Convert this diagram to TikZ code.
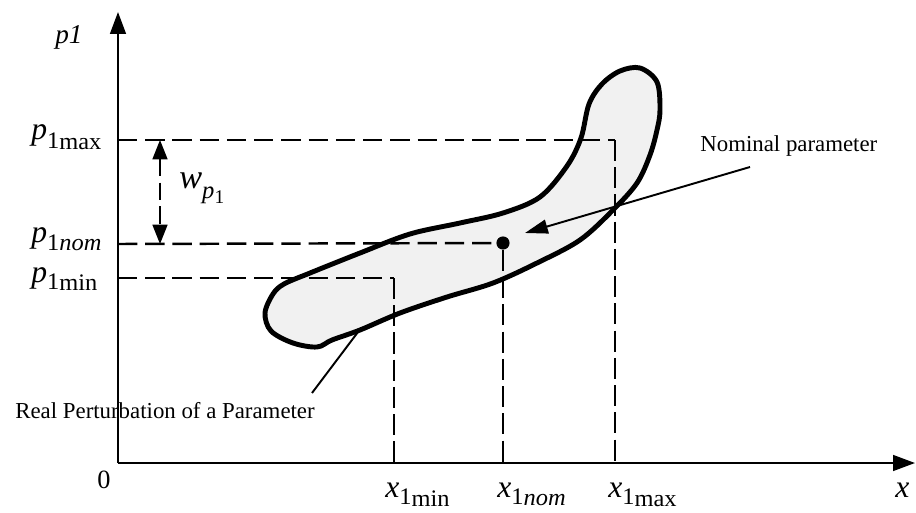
\documentclass[tikz,border=0pt]{standalone}
\usepackage{fontspec}
\setmainfont{Liberation Serif}
\usetikzlibrary{arrows.meta}
\newcommand{\symlbl}[4]{\textit{#1}\raisebox{-#3}{\fontsize{13.5}{15}\selectfont\scalebox{1.03}[1]{1}}\raisebox{-#4}{\fontsize{13.5}{15}\selectfont\scalebox{1.03}[1]{#2}}}
\begin{document}
\begin{tikzpicture}[x=0.02cm,y=-0.02cm,
  axisline/.style={line width=1.1pt,-{Triangle[length=12.5pt,width=9pt]}},
  guideh/.style={line width=1.4pt,dash pattern=on 11pt off 4.5pt},
  guidev/.style={line width=1.1pt,dash pattern=on 12pt off 3.5pt},
  warrow/.style={line width=0.9pt,dash pattern=on 10pt off 3.5pt,{Triangle[length=11pt,width=8.5pt]}-{Triangle[length=11pt,width=8.5pt]}},
  ptr/.style={line width=1.1pt,-{Triangle[length=13pt,width=8pt]}},
  plain/.style={line width=1.1pt},
  mathlbl/.style={font=\fontsize{18}{20}\selectfont,inner sep=0pt,anchor=base west},
  note/.style={font=\fontsize{13}{15}\selectfont,inner sep=0pt,anchor=base west},
  blob/.style={fill=gray!11,draw=black,line width=2.8pt,line join=round}
]
\useasboundingbox (0,0) rectangle (916,513);

% coordinates
\coordinate (O) at (118,463);
\coordinate (Ytop) at (118,12);
\coordinate (Xend) at (915,463);
\coordinate (Pmax) at (118,140);
\coordinate (Pnom) at (118,244);
\coordinate (Pmin) at (118,278);
\coordinate (Cmax) at (615,140);
\coordinate (Cmin) at (394,278);
\coordinate (Xmax) at (615,463);
\coordinate (Xmin) at (394,463);
\coordinate (Xnom) at (503,463);
\coordinate (Wt) at (160,140);
\coordinate (Wb) at (160,244);
\coordinate (realtail) at (312,393);
\coordinate (realtip) at (358,332);
\coordinate (nomtail) at (750,167);
\coordinate (nomtip) at (525,233);

% pointer to the region (under the blob)
\draw[plain] (realtail) -- (realtip);

% perturbation region
\path[blob] plot[smooth cycle, tension=0.55] coordinates {
 (640,68) (657,82) (660,110) (657,130) (650,155) (637,183) (613,210) (580,240)
 (537,263) (493,283) (447,297) (400,313) (360,330) (332,340) (317,347) (293,343)
 (271,331) (265,313) (273,294) (284,284) (310,273) (360,253) (410,234) (460,223)
 (503,213) (540,197) (567,166) (581,138) (589,104) (602,84) (620,71)};

% guides
\node[circle,fill=black,inner sep=0pt,minimum size=7.5pt] (dot) at (503,243) {};
\draw[guideh] (Pmax) -- (Cmax);
\draw[guidev] (Cmax) -- (Xmax);
\draw[guideh] (Pmin) -- (Cmin);
\draw[guidev] (Cmin) -- (Xmin);
\draw[guideh] (Pnom) -- (dot);
\draw[guidev] (dot) -- (Xnom);

% axes
\draw[axisline] (O) -- (Ytop);
\draw[axisline] (O) -- (Xend);

% width arrow
\draw[warrow] (Wt) -- (Wb);

% nominal pointer
\draw[ptr] (nomtail) -- (nomtip);

% labels
\node[mathlbl,font=\fontsize{15.5}{17}\selectfont] (ylab) at (55,44) {\textit{p1}};
\node[mathlbl] (lmax) at (31,140) {\symlbl{p}{max}{5pt}{5.5pt}};
\node[mathlbl] (lnom) at (31,243) {\symlbl{p}{\itshape nom}{4pt}{4.5pt}};
\node[mathlbl] (lmin) at (31,282) {\symlbl{p}{min}{4.5pt}{5pt}};
\node[mathlbl,font=\fontsize{19.5}{21}\selectfont] (wlab) at (179,189) {\textit{w}\raisebox{-5.5pt}{\fontsize{14}{16}\selectfont\textit{p}\raisebox{-2.8pt}{\fontsize{11}{13}\selectfont 1}}};
\node[mathlbl,font=\fontsize{15}{17}\selectfont] (zero) at (97,488) {0};
\node[mathlbl] (xmin) at (385,497) {\symlbl{x}{min}{4.5pt}{5.5pt}};
\node[mathlbl] (xnom) at (497,497) {\symlbl{x}{\itshape nom}{4.5pt}{5pt}};
\node[mathlbl] (xmax) at (608,497) {\symlbl{x}{max}{4.5pt}{5.5pt}};
\node[mathlbl] (xlab) at (895,497) {\textit{x}};
\node[note] (nomlbl) at (700,152) {Nominal parameter};
\node[note] (reallbl) at (15,418) {Real Perturbation of a Parameter};
\end{tikzpicture}
\end{document}
